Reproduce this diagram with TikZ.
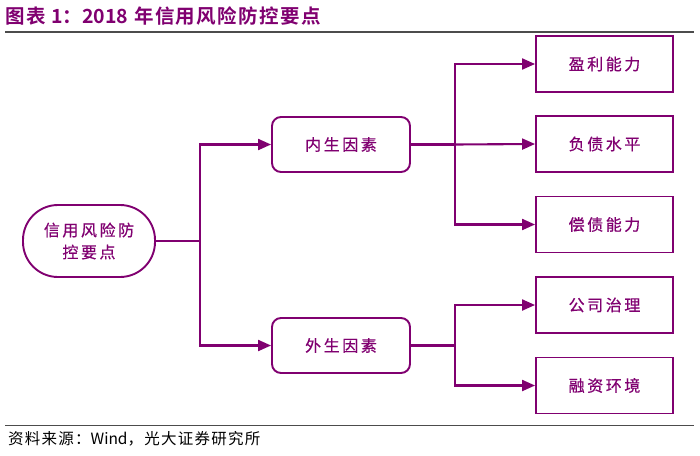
\documentclass[tikz,border=0pt]{standalone}
\usepackage{fontspec}
\setmainfont{Noto Sans CJK SC}[LetterSpace=8]
\newfontfamily\plainfont{Noto Sans CJK SC}
\newfontfamily\cjkbox{Noto Sans CJK SC}[LetterSpace=16,FakeBold=0.6]
\newfontfamily\cjkbold{Noto Sans CJK SC Bold}[LetterSpace=7]
\newfontfamily\cjkboldplain{Noto Sans CJK SC Bold}
\usetikzlibrary{arrows.meta}
\definecolor{pur}{RGB}{128,0,112}
\begin{document}
\begin{tikzpicture}[x=1pt,y=-1pt,
  conn/.style={draw=pur,line width=2.1pt},
  arr/.style={conn,-{Triangle[length=13pt,width=11pt]}},
  midbox/.style={draw=pur,line width=1.9pt,rounded corners=9pt,minimum width=138pt,minimum height=55pt,text=pur,font=\cjkbox\fontsize{16}{18}\selectfont,inner sep=0pt},
  leafbox/.style={draw=pur,line width=1.9pt,minimum width=137pt,minimum height=56pt,text=pur,font=\cjkbox\fontsize{16}{18}\selectfont,inner sep=0pt}]
\useasboundingbox (0,0) rectangle (700,455);
\node[anchor=west,text=pur,font=\cjkbold\fontsize{19.5}{22}\selectfont,inner sep=0pt] (title) at (5,16) {图表 {\cjkboldplain 1}：{\cjkboldplain 2018} 年信用风险防控要点};
\draw[line width=1.2pt,draw=black!70] (5,32) coordinate (t1) -- (694,32) coordinate (t2);
\draw[line width=1pt,draw=black!70] (5,425) coordinate (b1) -- (694,425) coordinate (b2);
\node[anchor=west,inner sep=0pt,font=\fontsize{15.5}{18}\selectfont] (src) at (8,439) {资料来源：{\plainfont Wind}，光大证券研究所};

\node[draw=pur,line width=1.9pt,rounded corners=35pt,minimum width=132pt,minimum height=72pt,text=pur,align=center,inner sep=0pt,font=\cjkbox\fontsize{16}{22}\selectfont] (root) at (89,241) {信用风险防\\控要点};

\node[midbox] (inner) at (341,144.5) {内生因素};
\node[midbox] (outer) at (341,345.5) {外生因素};

\node[leafbox] (l1) at (604.5,64) {盈利能力};
\node[leafbox] (l2) at (604.5,144) {负债水平};
\node[leafbox] (l3) at (604.5,224.5) {偿债能力};
\node[leafbox] (l4) at (604.5,305) {公司治理};
\node[leafbox] (l5) at (604.5,385.5) {融资环境};

\coordinate (j0) at (200,241);
\coordinate (j1) at (455,144.5);
\coordinate (j2) at (455,345.5);

\draw[conn] (root.east) -- (j0);
\draw[arr] (j0) |- (inner.west);
\draw[arr] (j0) |- (outer.west);

\draw[conn] (inner.east) -- (j1);
\draw[arr] (j1) |- (l1.west);
\draw[arr] (j1) -- (l2.west);
\draw[arr] (j1) |- (l3.west);

\draw[conn] (outer.east) -- (j2);
\draw[arr] (j2) |- (l4.west);
\draw[arr] (j2) |- (l5.west);
\end{tikzpicture}
\end{document}
